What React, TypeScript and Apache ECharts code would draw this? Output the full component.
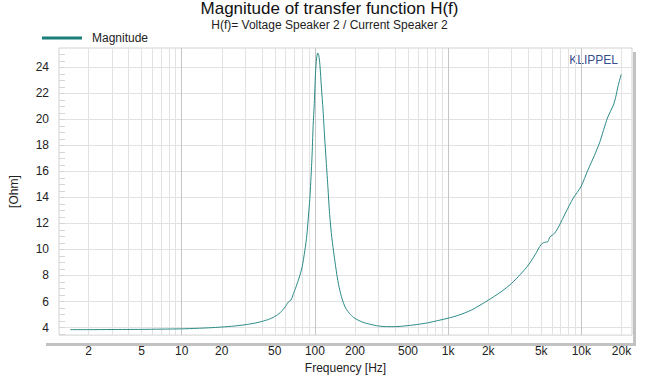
import { useEffect, useRef } from 'react';
import * as echarts from 'echarts';

const FREQ_HZ = [
  1.46, 2, 3, 5, 7, 10, 13, 16, 20, 25, 30, 35, 40, 45, 50, 55, 60, 63, 66, 69,
  72, 76, 80, 84, 87, 90, 92, 95, 97, 99, 101, 103, 105, 107, 109, 112, 115, 118,
  121, 125, 129, 134, 140, 146, 152, 160, 170, 185, 200, 230, 260, 300, 350, 400,
  500, 600, 700, 850, 1000, 1200, 1500, 2000, 2500, 3000, 3500, 4000, 4500, 5000,
  5300, 5600, 5800, 6300, 6800, 7600, 8700, 9900, 11200, 12500, 13700, 15700,
  17400, 18100, 18900, 19900,
];
const MAGNITUDE_OHM = [
  3.84, 3.84, 3.85, 3.86, 3.88, 3.9, 3.94, 3.98, 4.04, 4.12, 4.22, 4.33, 4.47, 4.63,
  4.85, 5.15, 5.6, 5.95, 6.1, 6.6, 7.1, 7.8, 8.6, 9.9, 11.1, 12.9, 14.2, 17.0, 19.5,
  21.2, 23.5, 24.7, 25.1, 24.9, 24.2, 22.4, 20.8, 18.8, 17.1, 14.9, 12.7, 10.9, 9.4,
  8.1, 7.1, 6.2, 5.5, 5.0, 4.7, 4.4, 4.25, 4.12, 4.07, 4.07, 4.15, 4.25, 4.36, 4.55,
  4.72, 4.95, 5.35, 6.1, 6.75, 7.4, 8.1, 8.8, 9.6, 10.4, 10.55, 10.6, 10.95, 11.25,
  11.8, 12.8, 13.95, 14.8, 16.1, 17.2, 18.2, 20.1, 21.1, 21.7, 22.6, 23.45,
];
const X_TICK_LABELS_HZ = [2, 5, 10, 20, 50, 100, 200, 500, 1000, 2000, 5000, 10000, 20000];
const X_MAJOR_LINES_HZ = [10, 100, 1000, 10000];
const Y_TICK_LABELS = [4, 6, 8, 10, 12, 14, 16, 18, 20, 22, 24];

const X_MIN_HZ = 1.2;
const X_MAX_HZ = 24000;
const Y_MIN = 3.42;
const Y_MAX = 25.48;

const FONT = '"Liberation Sans", Arial, sans-serif';
const LINE_COLOR = '#2a8a86';

const GRID = { left: 42, top: 48, width: 590, height: 294 };

function gridFreqs(): number[] {
  const out: number[] = [];
  for (let d = 1; d <= 10000; d *= 10) {
    for (let m = 1; m <= 9; m++) {
      const f = m * d;
      if (f > X_MIN_HZ && f < X_MAX_HZ) out.push(f);
    }
  }
  return out;
}

function fmtHz(v: number): string {
  const f = Math.round(Math.pow(10, v));
  return f >= 1000 ? f / 1000 + 'k' : String(f);
}

export default function App() {
  const ref = useRef<HTMLDivElement>(null);

  useEffect(() => {
    if (!ref.current) return;
    const chart = echarts.init(ref.current, null, { renderer: 'svg' });
    const lg = (f: number) => Math.log10(f);
    const data = FREQ_HZ.map((f, i) => [lg(f), MAGNITUDE_OHM[i]]);
    const yMinor: number[] = [];
    for (let v = 3.5; v <= 25.5; v += 0.5) yMinor.push(v);

    const xMin = lg(X_MIN_HZ);
    const xMax = lg(X_MAX_HZ);
    const gx2 = GRID.left + GRID.width;
    const gy2 = GRID.top + GRID.height;

    chart.setOption({
      animation: false,
      backgroundColor: '#ffffff',
      textStyle: { fontFamily: FONT },
      title: {
        text: 'Magnitude of transfer function H(f)',
        subtext: 'H(f)= Voltage Speaker 2 / Current Speaker 2',
        left: 'center',
        top: 0,
        itemGap: 2,
        padding: 0,
        textStyle: { fontFamily: FONT, fontSize: 17, fontWeight: 'normal', color: '#111' },
        subtextStyle: { fontFamily: FONT, fontSize: 12, color: '#222' },
      },
      legend: {
        left: 42,
        top: 32,
        padding: 0,
        icon: 'rect',
        itemWidth: 40,
        itemHeight: 3,
        textStyle: { fontFamily: FONT, fontSize: 12, color: '#222', padding: [0, 0, 0, 5] },
        data: [{ name: 'Magnitude', itemStyle: { color: '#1a7f79' } }],
      },
      grid: {
        ...GRID,
        show: true,
        backgroundColor: '#ffffff',
        borderColor: '#d2d2d2',
        borderWidth: 1,
      },
      graphic: [
        {
          type: 'rect',
          shape: { x: gx2 + 1, y: GRID.top + 4, width: 3, height: GRID.height },
          style: { fill: '#c2c2c2' },
          silent: true,
        },
        {
          type: 'rect',
          shape: { x: GRID.left + 4, y: gy2 + 1, width: GRID.width, height: 3 },
          style: { fill: '#c2c2c2' },
          silent: true,
        },
        {
          type: 'text',
          right: 41,
          top: 54,
          style: { text: 'KLIPPEL', fontFamily: FONT, fontSize: 12, fill: '#34508f' },
        },
      ],
      xAxis: [
        {
          type: 'value',
          min: xMin,
          max: xMax,
          name: 'Frequency [Hz]',
          nameLocation: 'middle',
          nameGap: 23,
          nameTextStyle: { fontFamily: FONT, fontSize: 12, color: '#222' },
          axisLine: { show: false },
          axisTick: { show: false, customValues: gridFreqs().map(lg) },
          axisLabel: {
            customValues: X_TICK_LABELS_HZ.map(lg),
            formatter: (v: number) => fmtHz(v),
            fontFamily: FONT,
            fontSize: 12,
            color: '#222',
            margin: 10,
          },
          splitLine: { show: true, lineStyle: { color: '#e2e2e2', width: 1 } },
        },
        {
          type: 'value',
          min: xMin,
          max: xMax,
          position: 'bottom',
          axisLine: { show: false },
          axisTick: { show: false, customValues: X_MAJOR_LINES_HZ.map(lg) },
          axisLabel: { show: false, customValues: X_MAJOR_LINES_HZ.map(lg) },
          splitLine: { show: true, lineStyle: { color: '#c6c6c6', width: 1 } },
        },
      ],
      yAxis: [
        {
          type: 'value',
          min: Y_MIN,
          max: Y_MAX,
          name: '[Ohm]',
          nameLocation: 'middle',
          nameRotate: 90,
          nameGap: 39,
          nameTextStyle: { fontFamily: FONT, fontSize: 12, color: '#222' },
          axisLine: { show: false },
          axisTick: { show: false, customValues: Y_TICK_LABELS },
          axisLabel: {
            customValues: Y_TICK_LABELS,
            fontFamily: FONT,
            fontSize: 12,
            color: '#222',
            margin: 10,
          },
          splitLine: { show: true, lineStyle: { color: '#e2e2e2', width: 1 } },
        },
        {
          type: 'value',
          min: Y_MIN,
          max: Y_MAX,
          position: 'left',
          axisLine: { show: false },
          axisTick: {
            show: true,
            inside: true,
            length: 6,
            customValues: yMinor,
            lineStyle: { color: '#d6d6d6' },
          },
          axisLabel: { show: false, customValues: yMinor },
          splitLine: { show: false },
        },
      ],
      series: [
        {
          name: 'Magnitude',
          type: 'line',
          xAxisIndex: 0,
          yAxisIndex: 0,
          data,
          showSymbol: false,
          smooth: 0.25,
          lineStyle: { color: LINE_COLOR, width: 1 },
          itemStyle: { color: LINE_COLOR },
        },
      ],
    });

    return () => chart.dispose();
  }, []);

  return (
    <div
      ref={ref}
      style={{ position: 'absolute', left: 0, top: 0, width: 659, height: 379 }}
    />
  );
}
